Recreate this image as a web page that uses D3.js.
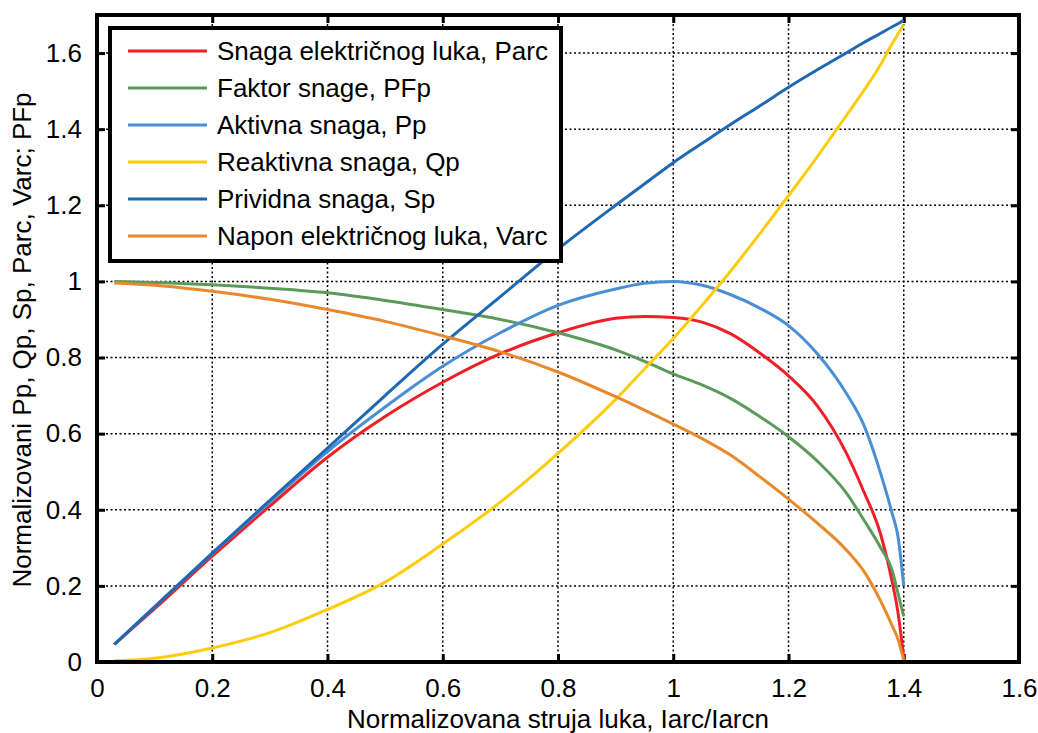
<!DOCTYPE html>
<html>
<head>
<meta charset="utf-8">
<script src="https://cdn.jsdelivr.net/npm/d3@7"></script>
<style>
  body { margin: 0; background: #fff; }
  text { font-family: "Liberation Sans", Arial, sans-serif; fill: #000; }
</style>
</head>
<body>
<svg id="chart" width="1038" height="733"></svg>
<script>
// shared x values (normalized arc current)
var xVals = [0.03, 0.1, 0.2, 0.3, 0.4, 0.5, 0.6, 0.7, 0.8, 0.9, 0.95, 1.0, 1.05, 1.1, 1.15, 1.2, 1.25, 1.3, 1.33, 1.36, 1.38, 1.39, 1.4];

var parc = [0.046, 0.14, 0.278, 0.41, 0.538, 0.645, 0.735, 0.81, 0.865, 0.903, 0.908, 0.905, 0.893, 0.862, 0.812, 0.752, 0.673, 0.55, 0.45, 0.335, 0.21, 0.13, 0.01];
var pfp  = [1.0, 0.997, 0.991, 0.982, 0.97, 0.95, 0.926, 0.9, 0.865, 0.82, 0.79, 0.757, 0.728, 0.692, 0.645, 0.592, 0.528, 0.445, 0.375, 0.3, 0.24, 0.18, 0.12];
var pp   = [0.046, 0.145, 0.285, 0.42, 0.553, 0.67, 0.777, 0.865, 0.937, 0.98, 0.995, 1.0, 0.99, 0.965, 0.93, 0.884, 0.81, 0.707, 0.625, 0.495, 0.39, 0.33, 0.2];
var qp   = [0.003, 0.01, 0.037, 0.077, 0.138, 0.21, 0.31, 0.42, 0.548, 0.69, 0.77, 0.85, 0.937, 1.028, 1.125, 1.225, 1.328, 1.435, 1.5, 1.57, 1.625, 1.65, 1.675];
var sp   = [0.046, 0.145, 0.286, 0.425, 0.562, 0.7, 0.835, 0.96, 1.085, 1.2, 1.256, 1.312, 1.363, 1.413, 1.461, 1.51, 1.556, 1.6, 1.627, 1.652, 1.669, 1.677, 1.686];
var varc = [0.996, 0.99, 0.974, 0.953, 0.926, 0.895, 0.857, 0.815, 0.762, 0.697, 0.662, 0.625, 0.587, 0.543, 0.487, 0.428, 0.365, 0.295, 0.24, 0.16, 0.095, 0.06, 0.005];

var seriesNames = ["Snaga električnog luka, Parc", "Faktor snage, PFp", "Aktivna snaga, Pp",
                   "Reaktivna snaga, Qp", "Prividna snaga, Sp", "Napon električnog luka, Varc"];
var seriesColors = ["#ee1f26", "#5c9a5c", "#4a8fd4", "#ffcc0a", "#1f68b3", "#e8892c"];
var seriesData = [parc, pfp, pp, qp, sp, varc];

var xTicks = [0, 0.2, 0.4, 0.6, 0.8, 1, 1.2, 1.4, 1.6];
var yTicks = [0, 0.2, 0.4, 0.6, 0.8, 1, 1.2, 1.4, 1.6];

var svg = d3.select("#chart");
var margin = {left: 97, top: 15, right: 1019, bottom: 662};
var width = margin.right - margin.left,
    height = margin.bottom - margin.top;

var x = d3.scaleLinear().domain([0, 1.6]).range([0, width]);
var y = d3.scaleLinear().domain([0, 1.7]).range([height, 0]);

var g = svg.append("g").attr("transform", "translate(" + margin.left + "," + margin.top + ")");

g.append("clipPath").attr("id", "clip")
  .append("rect").attr("width", width).attr("height", height);

// grid
g.selectAll(".vgrid").data(xTicks.slice(1, -1)).enter().append("line")
  .attr("x1", function(d) { return x(d); }).attr("x2", function(d) { return x(d); })
  .attr("y1", 0).attr("y2", height)
  .attr("stroke", "#000").attr("stroke-width", 1.5).attr("stroke-dasharray", "2,2.5");
g.selectAll(".hgrid").data(yTicks.slice(1)).enter().append("line")
  .attr("y1", function(d) { return y(d); }).attr("y2", function(d) { return y(d); })
  .attr("x1", 0).attr("x2", width)
  .attr("stroke", "#000").attr("stroke-width", 1.5).attr("stroke-dasharray", "2,2.5");

// axes with inward ticks
g.append("g").attr("transform", "translate(0," + height + ")")
  .call(d3.axisBottom(x).tickValues(xTicks).tickSize(-8).tickPadding(17).tickFormat(d3.format("")));
g.append("g")
  .call(d3.axisLeft(y).tickValues(yTicks).tickSize(-8).tickPadding(15).tickFormat(d3.format("")));
g.append("g").call(d3.axisTop(x).tickValues(xTicks).tickSize(-8).tickFormat(""));
g.append("g").attr("transform", "translate(" + width + ",0)")
  .call(d3.axisRight(y).tickValues(yTicks).tickSize(-8).tickFormat(""));

g.selectAll(".domain").remove();
g.selectAll(".tick line").attr("stroke", "#000").attr("stroke-width", 3);
g.selectAll(".tick text").style("font-size", "26px").style("font-family", "Liberation Sans, Arial, sans-serif");

// curves
var line = d3.line()
  .x(function(d) { return x(d[0]); })
  .y(function(d) { return y(d[1]); })
  .curve(d3.curveMonotoneX);

var curves = g.append("g").attr("clip-path", "url(#clip)");
seriesData.forEach(function(vals, i) {
  var pts = xVals.map(function(xv, j) { return [xv, vals[j]]; });
  curves.append("path").datum(pts)
    .attr("d", line)
    .attr("fill", "none")
    .attr("stroke", seriesColors[i])
    .attr("stroke-width", 3);
});

// frame
g.append("rect").attr("width", width).attr("height", height)
  .attr("fill", "none").attr("stroke", "#000").attr("stroke-width", 4);

// legend
var legend = svg.append("g").attr("transform", "translate(110,28)");
legend.append("rect").attr("width", 451).attr("height", 233)
  .attr("fill", "#fff").attr("stroke", "#000").attr("stroke-width", 4);
var items = legend.selectAll(".item").data(seriesNames).enter().append("g")
  .attr("transform", function(d, i) { return "translate(0," + (23 + i * 37) + ")"; });
items.append("line").attr("x1", 18).attr("x2", 97).attr("y1", 0).attr("y2", 0)
  .attr("stroke", function(d, i) { return seriesColors[i]; }).attr("stroke-width", 3);
items.append("text").attr("x", 107).attr("y", 0).attr("dy", "0.35em")
  .style("font-size", "26px").text(function(d) { return d; });

// axis titles
svg.append("text").attr("x", 558).attr("y", 728)
  .attr("text-anchor", "middle").style("font-size", "26px")
  .text("Normalizovana struja luka, Iarc/Iarcn");
svg.append("text").attr("transform", "translate(31," + 340 + ") rotate(-90)")
  .attr("text-anchor", "middle").style("font-size", "26px")
  .text("Normalizovani Pp, Qp, Sp, Parc, Varc; PFp");
</script>
</body>
</html>
